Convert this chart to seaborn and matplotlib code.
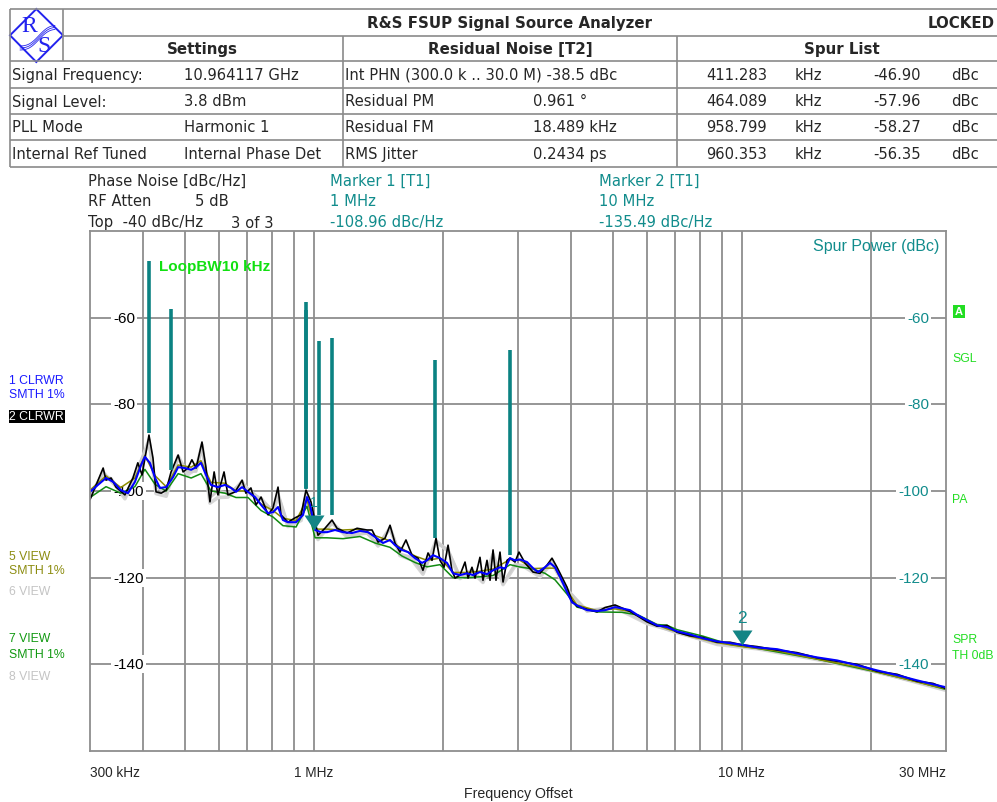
import numpy as np
import pandas as pd
import matplotlib
matplotlib.use("Agg")
import matplotlib.pyplot as plt
import matplotlib.transforms as mtransforms
from matplotlib.patches import Polygon, Rectangle
from matplotlib import font_manager
import seaborn as sns

# ---------------- data (frequency offsets in kHz, levels in dBc/Hz) ----------------
trace1_freq = [300, 313, 327, 340, 354, 368, 382, 395, 403, 414, 426, 437, 452, 469, 482, 500, 517, 531,
               545, 560, 575, 597, 620, 641, 658, 680, 702, 729, 753, 782, 803, 825, 847, 870, 909, 944,
               964, 980, 1007, 1040, 1074, 1121, 1170, 1228, 1282, 1339, 1390, 1451, 1507, 1548, 1607,
               1660, 1724, 1790, 1839, 1899, 1972, 2048, 2115, 2196, 2280, 2355, 2445, 2539, 2623, 2723,
               2798, 2874, 2952, 3032, 3149, 3252, 3341, 3469, 3564, 3661, 3761, 3905, 4012, 4121, 4349,
               4589, 4791, 5056, 5250, 5481, 5723, 6006, 6339, 6689, 7058, 7567, 8115, 8751, 9385, 10012,
               10853, 12088, 13463, 14990, 16695, 18593, 20707, 23062, 25684, 27974, 30000]
trace1_level = [-100.2, -98.6, -97.0, -97.9, -99.8, -100.5, -97.9, -94.0, -92.1, -93.5, -97.0, -99.3, -99.1,
                -96.8, -94.5, -94.7, -95.1, -94.5, -93.5, -96.3, -98.6, -99.1, -98.6, -99.3, -100.2, -99.1,
                -100.2, -101.4, -103.2, -105.1, -104.9, -103.7, -106.7, -107.2, -107.2, -105.5, -101.4,
                -103.2, -109.0, -109.5, -109.5, -109.0, -109.5, -109.7, -109.2, -109.5, -110.6, -112.0,
                -111.3, -112.5, -113.6, -114.1, -115.5, -116.6, -116.0, -114.8, -115.5, -116.6, -119.0,
                -119.4, -119.0, -119.4, -118.7, -119.2, -118.3, -117.6, -117.9, -115.5, -116.0, -115.8,
                -116.4, -117.8, -118.7, -117.6, -116.6, -117.6, -119.8, -123.3, -125.7, -126.4, -127.5,
                -127.7, -127.5, -126.8, -127.1, -127.5, -128.7, -129.8, -131.0, -131.4, -132.4, -133.1,
                -134.0, -134.7, -135.1, -135.5, -136.1, -136.5, -137.5, -138.4, -139.1, -140.2, -141.4,
                -142.5, -143.7, -144.6, -145.3]

trace2_freq = [300, 308, 322, 327, 336, 345, 362, 378, 388, 397, 412, 421, 428, 440, 452, 464, 482, 495,
               508, 519, 531, 548, 560, 572, 585, 597, 617, 630, 655, 680, 694, 713, 733, 753, 782, 803,
               825, 838, 870, 904, 934, 959, 985, 1023, 1062, 1103, 1133, 1196, 1262, 1331, 1368, 1413,
               1467, 1507, 1548, 1590, 1642, 1696, 1752, 1799, 1849, 1889, 1930, 1972, 2015, 2059, 2103,
               2138, 2196, 2256, 2293, 2342, 2381, 2445, 2485, 2539, 2581, 2623, 2665, 2723, 2768, 2828,
               2874, 2952, 3016, 3115, 3252, 3377, 3507, 3602, 3701, 3905, 4012, 4121, 4349, 4589, 4791,
               5056, 5250, 5481, 5723, 6006, 6339, 6689, 7058, 7567, 8115, 8751, 9385, 10012, 10853,
               12088, 13463, 14990, 16695, 18593, 20707, 23062, 25684, 27974, 30000]
trace2_level = [-102.0, -99.3, -94.7, -97.5, -97.0, -99.1, -100.9, -97.0, -93.5, -96.3, -87.1, -92.4,
                -100.2, -100.5, -99.8, -95.6, -91.7, -95.6, -94.7, -92.8, -94.7, -88.7, -94.7, -102.5,
                -95.6, -100.9, -95.6, -100.9, -100.2, -97.5, -100.5, -99.3, -103.2, -101.4, -105.5,
                -103.9, -99.1, -105.5, -107.2, -106.2, -105.5, -99.8, -102.5, -110.2, -108.6, -106.7,
                -108.6, -109.7, -108.6, -109.0, -109.0, -111.8, -110.9, -107.9, -112.0, -114.1, -111.3,
                -114.8, -115.5, -118.3, -114.3, -116.0, -110.9, -116.0, -117.6, -112.5, -118.3, -120.1,
                -119.4, -116.4, -120.1, -117.6, -120.1, -115.3, -120.6, -116.0, -120.6, -113.6, -120.6,
                -114.1, -121.0, -116.0, -115.5, -116.4, -114.1, -116.6, -118.7, -119.0, -117.1, -115.5,
                -117.6, -122.2, -125.4, -126.6, -127.3, -127.9, -126.9, -126.3, -127.0, -127.8, -128.9,
                -130.2, -131.2, -131.0, -132.6, -133.4, -133.8, -134.9, -134.9, -135.5, -135.9, -136.7,
                -137.3, -138.5, -139.3, -140.0, -141.6, -142.3, -143.9, -144.4, -145.6]

trace5_freq = [300, 327, 354, 382, 403, 426, 452, 482, 517, 545, 575, 620, 658, 702, 753, 803, 847, 909,
               964, 1007, 1074, 1170, 1282, 1390, 1507, 1607, 1724, 1839, 1972, 2115, 2280, 2445, 2623,
               2874, 3032, 3252, 3469, 3661, 3905, 4121, 4589, 5056, 5481, 6006, 6689, 7567, 8751, 10012,
               12088, 14990, 18593, 23062, 27974, 30000]
trace5_level = [-99.8, -96.5, -99.2, -97.0, -91.8, -96.5, -99.0, -94.0, -94.5, -93.0, -98.0, -98.2,
                -100.0, -100.0, -103.0, -104.5, -106.3, -106.8, -102.0, -108.8, -108.8, -109.0, -108.8,
                -110.3, -111.5, -113.3, -115.0, -116.0, -115.5, -118.8, -118.8, -118.5, -118.0, -115.8,
                -116.0, -117.9, -117.8, -117.8, -123.0, -126.3, -127.6, -127.2, -127.8, -130.0, -131.8,
                -133.5, -135.0, -135.9, -136.9, -138.8, -140.6, -142.9, -145.0, -145.6]

trace7_freq = [300, 327, 354, 382, 403, 426, 452, 482, 517, 545, 575, 620, 658, 702, 753, 803, 847, 909,
               964, 1007, 1074, 1170, 1282, 1390, 1507, 1607, 1724, 1839, 1972, 2115, 2280, 2445, 2623,
               2874, 3016, 3252, 3469, 3661, 3905, 4121, 4589, 5250, 5723, 6339, 6689, 7058, 8115, 8751,
               9385, 10853, 14990, 20707, 25684, 30000]
trace7_level = [-101.5, -99.0, -100.5, -99.0, -95.0, -98.5, -100.0, -96.0, -97.0, -96.0, -100.0,
                -100.5, -101.5, -101.5, -104.5, -106.0, -108.0, -108.3, -103.5, -110.8, -110.8, -111.0,
                -110.5, -112.0, -113.0, -115.0, -116.5, -117.5, -117.0, -120.0, -120.0, -119.8, -119.5,
                -117.0, -117.5, -118.0, -119.0, -120.5, -123.8, -126.8, -127.9, -128.0, -128.6, -130.8,
                -131.0, -132.0, -133.5, -134.5, -135.4, -136.3, -138.8, -141.8, -144.0, -145.8]

view_freq = [300, 322, 336, 362, 388, 412, 428, 452, 482, 508, 531, 548, 572, 597, 630, 680, 713, 753,
             803, 825, 870, 934, 959, 1023, 1103, 1196, 1331, 1413, 1507, 1590, 1696, 1799, 1930, 2059,
             2196, 2342, 2485, 2623, 2768, 2952, 3115, 3377, 3602, 3905, 4349, 5056, 6006, 7058, 8751,
             10853, 14990, 20707, 30000]
trace6_level = [-101.5, -95.5, -97.8, -101.3, -94.5, -89.0, -99.0, -100.5, -92.5, -95.5, -95.5, -90.0,
                -101.5, -100.0, -100.5, -98.3, -100.0, -102.0, -104.5, -100.5, -107.8, -106.2, -101.0,
                -110.8, -107.5, -110.3, -109.8, -112.3, -108.8, -114.5, -115.3, -118.8, -112.0, -113.5,
                -119.8, -118.2, -120.8, -115.0, -121.3, -116.9, -117.2, -119.5, -116.2, -122.6, -127.8,
                -126.6, -130.4, -132.8, -135.2, -136.2, -138.7, -141.9, -145.8]
trace8_level = [-100.8, -96.3, -97.2, -101.8, -95.3, -88.2, -100.6, -101.2, -92.0, -96.2, -94.9, -89.4,
                -102.8, -101.5, -101.4, -97.8, -100.9, -101.7, -105.0, -101.2, -108.2, -106.8, -100.6,
                -111.2, -107.3, -110.6, -109.4, -112.7, -108.5, -114.9, -115.9, -119.2, -111.5, -113.9,
                -120.2, -118.6, -121.1, -114.6, -121.6, -117.3, -117.6, -119.8, -116.6, -123.0, -127.6,
                -126.9, -130.6, -132.5, -135.4, -136.4, -138.9, -141.7, -146.0]

spur_freq = [411.283, 464.089, 958.799, 960.353, 1030, 1101, 1923, 2874]
spur_dbc = [-46.90, -57.96, -58.27, -56.35, -65.3, -64.7, -69.7, -67.4]
spur_base = [-86.6, -95.1, -99.5, -99.3, -105.5, -105.5, -110.9, -114.8]

marker_freq = [1000, 10000]
marker_level = [-108.96, -135.49]
marker_name = ["1", "2"]

xtick_pos = [300, 1000, 10000, 30000]
xtick_text = ["300 kHz", "1 MHz", "10 MHz", "30 MHz"]
grid_freq = [400, 500, 600, 700, 800, 900, 1000, 2000, 3000, 4000, 5000, 6000, 7000, 8000, 9000,
             10000, 20000]
ytick_pos = [-60, -80, -100, -120, -140]

# ---------------- style ----------------
sns.set_style("white")
plt.rcParams['font.family'] = ['DejaVu Sans']
names = {f.name for f in font_manager.fontManager.ttflist}
SANS = 'Liberation Sans'
NARROW = 'Liberation Sans Narrow' if 'Liberation Sans Narrow' in names else 'Liberation Sans'
TEAL = "#118c8c"
GRID = "#8e8e8e"
BRIGHT_GREEN = "#22dd22"

W, H = 997, 803
fig = plt.figure(figsize=(W / 100, H / 100), dpi=100)

# overlay in pixel coordinates
ov = fig.add_axes([0, 0, 1, 1], zorder=0)
ov.set_xlim(0, W)
ov.set_ylim(H, 0)
ov.axis('off')

# ---- header table ----
lc = "#8a8a8a"
lw = 1.2
for y, x0 in [(9.5, 9.5), (37, 63), (62, 9.5), (89, 9.5), (115, 9.5), (141, 9.5), (168, 9.5)]:
    ov.plot([x0, W], [y, y], color=lc, lw=lw, solid_capstyle='butt')
for x, y0, y1 in [(9.5, 9.5, 168), (63, 9.5, 62), (343, 37, 168), (677, 37, 168)]:
    ov.plot([x, x], [y0, y1], color=lc, lw=lw, solid_capstyle='butt')

# logo
logo_blue = "#2222ee"
ov.add_patch(Polygon([(36.3, 10), (63, 36.3), (36.3, 63), (10, 36.3)], closed=True,
                     fill=False, edgecolor=logo_blue, lw=1.4))
for k in range(3):
    xs = np.linspace(20, 55, 40)
    ys = 47 - (xs - 20) * 0.55 + 3.0 * np.sin((xs - 20) / 6.0) + k * 2.0
    ov.plot(xs, ys, color=logo_blue, lw=0.6)
ov.text(29, 27, "R", color=logo_blue, fontsize=17, family='Liberation Serif', ha='center', va='center')
ov.text(44, 46, "S", color=logo_blue, fontsize=17, family='Liberation Serif', ha='center', va='center')

ov.text(509, 23.5, "R&S FSUP Signal Source Analyzer", fontsize=10.8, fontweight='bold',
        ha='center', va='center')
ov.text(995, 23.5, "LOCKED", fontsize=10.8, fontweight='bold', ha='right', va='center')
ov.text(202, 49.5, "Settings", fontsize=10.8, fontweight='bold', ha='center', va='center')
ov.text(510, 49.5, "Residual Noise [T2]", fontsize=10.8, fontweight='bold', ha='center', va='center')
ov.text(842, 49.5, "Spur List", fontsize=10.8, fontweight='bold', ha='center', va='center')

row_y = [75.5, 102, 128, 154.5]
settings_lab = ["Signal Frequency:", "Signal Level:", "PLL Mode", "Internal Ref Tuned"]
settings_val = ["10.964117 GHz", "3.8 dBm", "Harmonic 1", "Internal Phase Det"]
resid_lab = ["Int PHN (300.0 k .. 30.0 M) -38.5 dBc", "Residual PM", "Residual FM", "RMS Jitter"]
resid_val = ["", "0.961 \u00b0", "18.489 kHz", "0.2434 ps"]
fs = 10.6
for i, y in enumerate(row_y):
    ov.text(12, y, settings_lab[i], fontsize=fs, va='center')
    ov.text(184, y, settings_val[i], fontsize=fs, va='center')
    ov.text(345, y, resid_lab[i], fontsize=fs, va='center')
    ov.text(533, y, resid_val[i], fontsize=fs, va='center')
    ov.text(706, y, f"{spur_freq[i]:.3f}", fontsize=fs, va='center')
    ov.text(795, y, "kHz", fontsize=fs, va='center')
    ov.text(873, y, f"{spur_dbc[i]:.2f}", fontsize=fs, va='center')
    ov.text(951, y, "dBc", fontsize=fs, va='center')

# info lines
fi = 10.6
ov.text(88, 181, "Phase Noise [dBc/Hz]", fontsize=fi, va='center')
ov.text(88, 202, "RF Atten", fontsize=fi, va='center')
ov.text(195, 202, "5 dB", fontsize=fi, va='center')
ov.text(88, 223, "Top  -40 dBc/Hz", fontsize=fi, va='center')
ov.text(231, 223, "3 of 3", fontsize=fi, va='center')
for xm, i in [(330, 0), (599, 1)]:
    ov.text(xm, 181, f"Marker {marker_name[i]} [T1]", fontsize=fi, va='center', color=TEAL)
    fval = marker_freq[i]
    ov.text(xm, 202, f"{fval / 1000:g} MHz", fontsize=fi, va='center', color=TEAL)
    ov.text(xm, 223, f"{marker_level[i]:.2f} dBc/Hz", fontsize=fi, va='center', color=TEAL)

# left trace legend
fl = 8.8
ov.add_patch(Rectangle((9, 410.5), 56, 13.5, facecolor='black', edgecolor='none'))
left_labels = [("1 CLRWR", 381, "#1a1aff"), ("SMTH 1%", 395, "#1a1aff"), ("2 CLRWR", 417, "white"),
               ("5 VIEW", 557, "#8c8c10"), ("SMTH 1%", 571, "#8c8c10"), ("6 VIEW", 592, "#c4c4c4"),
               ("7 VIEW", 639, "#119911"), ("SMTH 1%", 655, "#119911"), ("8 VIEW", 677, "#c4c4c4")]
for t, y, c in left_labels:
    ov.text(9, y, t, fontsize=fl, family=SANS, color=c, va='center')

# right side
ov.add_patch(Rectangle((953, 306), 12, 13, facecolor=BRIGHT_GREEN, edgecolor='none'))
ov.text(959, 312.5, "A", fontsize=8, family=SANS, fontweight='bold', color='white', ha='center', va='center')
for t, y in [("SGL", 359), ("PA", 500), ("SPR", 640), ("TH 0dB", 656)]:
    ov.text(952, y, t, fontsize=fl, family=SANS, color=BRIGHT_GREEN, va='center')

# ---------------- main plot ----------------
L, R, T, B = 90, 946, 232, 752
ax = fig.add_axes([L / W, 1 - B / H, (R - L) / W, (B - T) / H], zorder=1)
ax.set_xscale('log')
ax.set_xlim(300, 30000)
ax.set_ylim(-160, -40)
ax.set_xticks(grid_freq)
ax.set_xticks([], minor=True)
ax.set_yticks(ytick_pos)
ax.tick_params(length=0, labelbottom=False, labelleft=False)
ax.grid(True, color=GRID, lw=1.3, zorder=0.5)
ax.set_axisbelow(True)
for s in ax.spines.values():
    s.set_color(GRID)
    s.set_linewidth(1.3)

def trace_df(freq, level):
    return pd.DataFrame({"freq": freq, "level": level})

sns.lineplot(data=trace_df(view_freq, trace8_level), x="freq", y="level", ax=ax, color="#d6d6d6",
             lw=2.6, sort=False, estimator=None, zorder=2)
sns.lineplot(data=trace_df(view_freq, trace6_level), x="freq", y="level", ax=ax, color="#cdcdcd",
             lw=2.0, sort=False, estimator=None, zorder=2.1)
sns.lineplot(data=trace_df(trace7_freq, trace7_level), x="freq", y="level", ax=ax, color="#118a11",
             lw=1.1, sort=False, estimator=None, zorder=2.2)
sns.lineplot(data=trace_df(trace5_freq, trace5_level), x="freq", y="level", ax=ax, color="#8c8c00",
             lw=1.1, sort=False, estimator=None, zorder=2.3)
sns.lineplot(data=trace_df(trace2_freq, trace2_level), x="freq", y="level", ax=ax, color="black",
             lw=1.2, sort=False, estimator=None, zorder=2.4)
sns.lineplot(data=trace_df(trace1_freq, trace1_level), x="freq", y="level", ax=ax, color="#0000ff",
             lw=1.5, sort=False, estimator=None, zorder=2.5)
ax.set_xlabel("")
ax.set_ylabel("")

# spurs
ax.vlines(spur_freq, spur_base, spur_dbc, color="#0b8282", lw=2.6, zorder=3)

# markers
tri = [(-10, 15), (10, 15), (0, 0)]
ax.plot(marker_freq, marker_level, ls='none', marker=tri, markersize=21.6, color="#138585",
        markeredgewidth=0, zorder=4)
for f, v, n, s in zip(marker_freq, marker_level, marker_name, [10, 12.5]):
    ax.annotate(n, xy=(f, v), xytext=(0, 20), textcoords='offset points', ha='center', va='center',
                color=TEAL, fontsize=s, family=SANS, zorder=6)

# y labels inside plot
tr_y = mtransforms.blended_transform_factory(ax.transAxes, ax.transData)
for v in ytick_pos:
    ax.text((113 - L) / (R - L), v, f"{v}", transform=tr_y, ha='left', va='center', fontsize=11,
            family=SANS, color='black', zorder=1,
            bbox=dict(facecolor='white', edgecolor='none', pad=1.5))
    ax.text((929 - L) / (R - L), v, f"{v}", transform=tr_y, ha='right', va='center', fontsize=11,
            family=SANS, color=TEAL, zorder=1,
            bbox=dict(facecolor='white', edgecolor='none', pad=1.5))

ax.text((939 - L) / (R - L), 1 - (247 - T) / (B - T), "Spur Power (dBc)", transform=ax.transAxes,
        ha='right', va='center', fontsize=11.5, family=SANS, color=TEAL, zorder=5)
ax.text((159 - L) / (R - L), 1 - (267 - T) / (B - T), "LoopBW10 kHz", transform=ax.transAxes,
        ha='left', va='center', fontsize=11, family=SANS, fontweight='bold', color="#11e011", zorder=5)

# x labels
tr_x = mtransforms.blended_transform_factory(ax.transData, ax.transAxes)
aligns = ['left', 'center', 'center', 'right']
for p, t, a in zip(xtick_pos, xtick_text, aligns):
    ax.text(p, -(773 - B) / (B - T), t, transform=tr_x, ha=a, va='center', fontsize=9.8,
            family=NARROW, clip_on=False)
ax.text(0.5, -(794 - B) / (B - T), "Frequency Offset", transform=ax.transAxes, ha='center',
        va='center', fontsize=10.2, family=NARROW, clip_on=False)

fig.savefig("out.png", dpi=100, facecolor='white')
